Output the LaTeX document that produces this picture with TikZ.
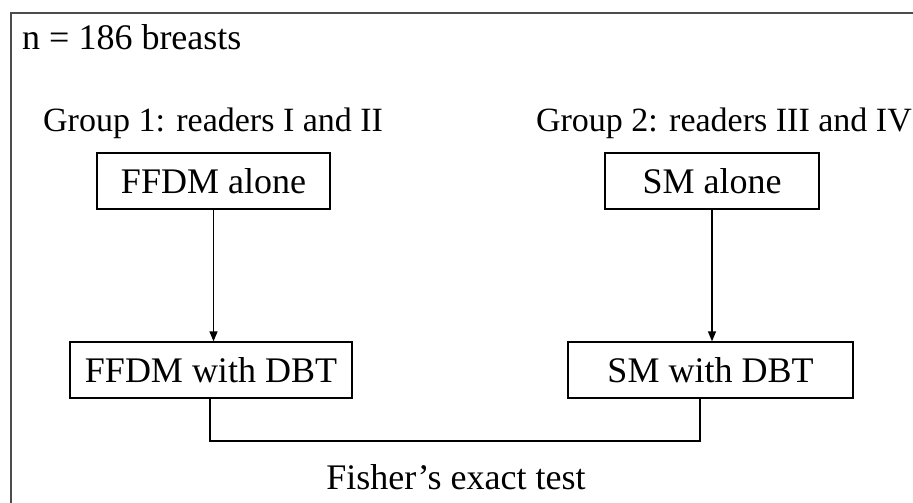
\documentclass[tikz,border=0pt]{standalone}
\usepackage{fontspec}
\setmainfont{Liberation Serif}
\usetikzlibrary{arrows.meta}
\begin{document}
\begin{tikzpicture}[x=1pt,y=-1pt,
  every node/.style={font=\fontsize{36}{40}\selectfont},
  txt/.style={inner sep=0pt},
  grp/.style={txt, font=\fontsize{34}{38}\selectfont},
  stepbox/.style={draw, line width=1.3pt, inner sep=0pt, minimum height=56pt},
  conn/.style={line width=1.3pt},
  arr/.style={conn, -{Triangle[length=10pt,width=8pt]}},
  frame/.style={line width=1.8pt, draw=black!70}]
\useasboundingbox (0,0) rectangle (913,503);
\fill[white] (0,0) rectangle (913,503);
\draw[frame] (11,503) -- (11,13) -- (913,13);

\node[txt, anchor=base west] (n) at (22,50) {n = 186 breasts};
\node[grp, anchor=base west] (g1) at (43,131) {Group 1: readers I and II};
\node[grp, anchor=base east] (g2) at (912,131) {Group 2: readers III and IV};

\node[stepbox, minimum width=233pt] (ffdm) at (213.5,181) {FFDM alone};
\node[stepbox, minimum width=214pt] (sm) at (712,181) {SM alone};
\node[stepbox, minimum width=282pt] (ffdmdbt) at (211,370) {FFDM with DBT};
\node[stepbox, minimum width=285pt] (smdbt) at (710.5,370) {SM with DBT};

\draw[arr] (ffdm.south) -- (ffdm.south |- ffdmdbt.north);
\draw[arr] (sm.south) -- (sm.south |- smdbt.north);

\coordinate (jl) at (210,441);
\coordinate (jr) at (700,441);
\draw[conn] (jl |- ffdmdbt.south) -- (jl) -- (jr) -- (jr |- smdbt.south);

\node[txt, anchor=base] (fisher) at (456,489) {Fisher’s exact test};
\end{tikzpicture}
\end{document}
